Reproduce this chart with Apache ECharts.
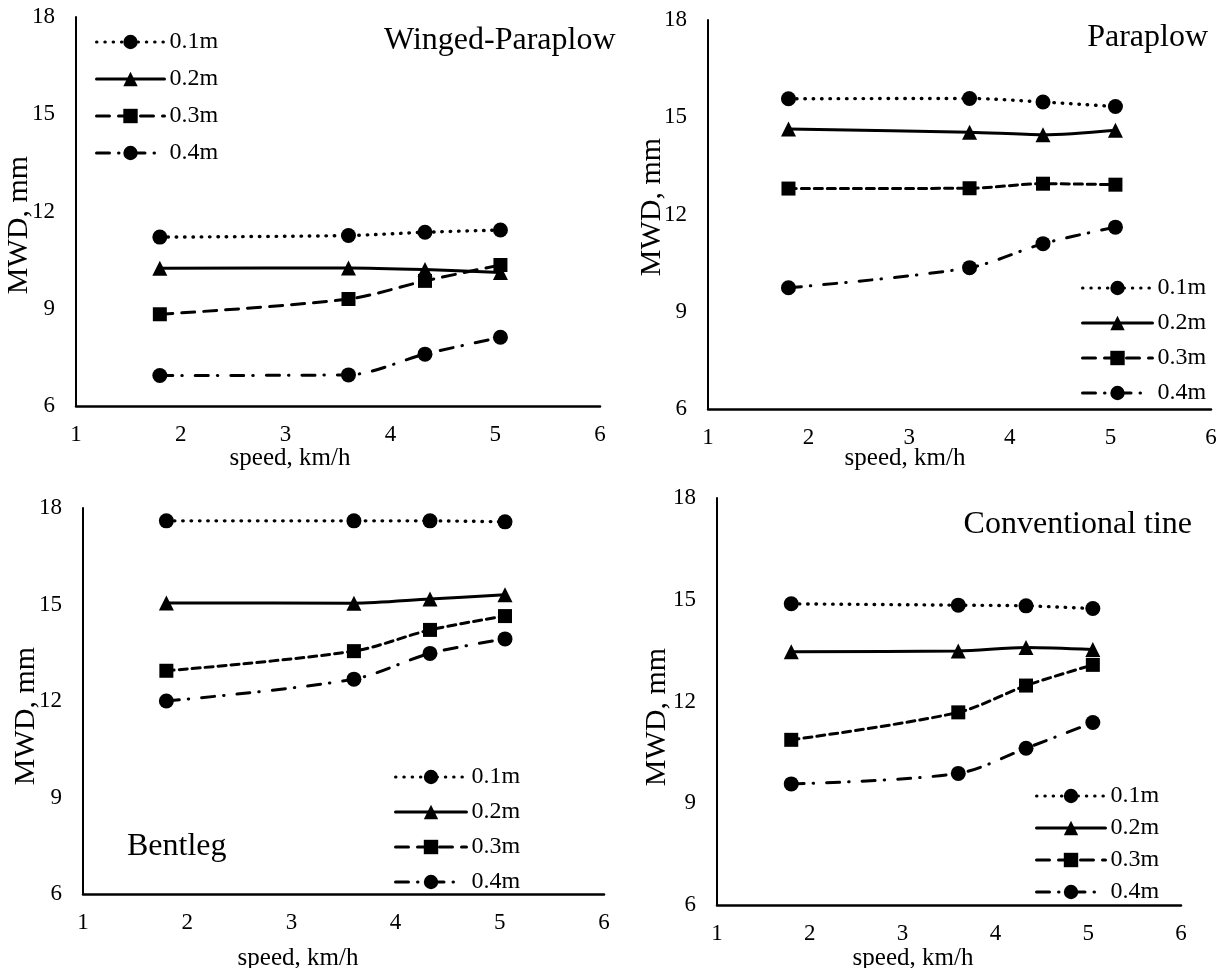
<!DOCTYPE html>
<html>
<head>
<meta charset="utf-8">
<script src="https://cdn.jsdelivr.net/npm/echarts@6/dist/echarts.min.js"></script>
<style>
html, body { margin: 0; background: #fff; }
#chart { width: 1228px; height: 968px; }
</style>
</head>
<body>
<div id="chart"></div>
<script>
// tillage speed (km/h) at which MWD was measured
const speeds = [1.8, 3.6, 4.33, 5.05]
const depths = ['0.1m', '0.2m', '0.3m', '0.4m']
const xTicks = [1, 2, 3, 4, 5, 6]
const yTicks = [6, 9, 12, 15, 18]

// MWD in mm, one row per depth (0.1m .. 0.4m)
const wingedParaplow = [
  [11.21, 11.26, 11.36, 11.43],
  [10.25, 10.26, 10.21, 10.12],
  [8.83, 9.30, 9.86, 10.35],
  [6.94, 6.96, 7.60, 8.12]
]
const paraplow = [
  [15.57, 15.58, 15.47, 15.33],
  [14.64, 14.54, 14.46, 14.60],
  [12.80, 12.81, 12.95, 12.92],
  [9.74, 10.36, 11.10, 11.61]
]
const bentleg = [
  [17.60, 17.60, 17.60, 17.57],
  [15.05, 15.04, 15.17, 15.30],
  [12.94, 13.55, 14.21, 14.64],
  [12.00, 12.68, 13.48, 13.93]
]
const conventionalTine = [
  [14.88, 14.84, 14.82, 14.74],
  [13.47, 13.49, 13.59, 13.53],
  [10.87, 11.68, 12.47, 13.08],
  [9.57, 9.88, 10.62, 11.38]
]

const FONT = '"Liberation Serif", "Times New Roman", serif'
const symbols = ['circle', 'triangle', 'rect', 'circle']
const symbolSizes = [15, 15, 14, 15]

// panel layout
const panels = [
  { name: 'Winged-Paraplow', data: wingedParaplow,
    grid: { left: 76, top: 17, width: 524, height: 389 },
    title: [384, 41, 'left'], xName: [290, 458], yName: [19, 225],
    legend: { left: 95, top: 30, itemWidth: 68, itemGap: 13 },
    dash: [13, 9] },
  { name: 'Paraplow', data: paraplow,
    grid: { left: 708, top: 20, width: 503, height: 389 },
    title: [1208, 38, 'right'], xName: [905, 458], yName: [652, 207],
    legend: { left: 1081, top: 276, itemWidth: 70, itemGap: 11 },
    dash: [8, 5] },
  { name: 'Bentleg', data: bentleg,
    grid: { left: 83, top: 508, width: 521, height: 386 },
    title: [127, 847, 'left'], xName: [298, 958], yName: [26, 716],
    legend: { left: 394, top: 765, itemWidth: 71, itemGap: 11 },
    dash: [8, 5] },
  { name: 'Conventional tine', data: conventionalTine,
    grid: { left: 717, top: 498, width: 464, height: 407 },
    title: [1192, 525, 'right'], xName: [913, 958], yName: [657, 717],
    legend: { left: 1035, top: 784, itemWidth: 69, itemGap: 8 },
    dash: [8, 5] }
]

const lineTypes = p => [[0.5, 7.8], 'solid', p.dash, [13, 9, 0.5, 13]]

const chart = echarts.init(document.getElementById('chart'))

const grid = [], xAxis = [], yAxis = [], series = [], legend = [], graphic = []

panels.forEach((p, i) => {
  grid.push(p.grid)
  xAxis.push({
    type: 'value', gridIndex: i, min: xTicks[0], max: xTicks[xTicks.length - 1], interval: 1,
    axisLine: { lineStyle: { color: '#000', width: 2.5 } },
    axisTick: { show: false }, splitLine: { show: false },
    axisLabel: { color: '#000', fontFamily: FONT, fontSize: 23, margin: 17 }
  })
  yAxis.push({
    type: 'value', gridIndex: i, min: yTicks[0], max: yTicks[yTicks.length - 1], interval: 3,
    axisLine: { show: true, lineStyle: { color: '#000', width: 2 } },
    axisTick: { show: false }, splitLine: { show: false },
    axisLabel: { color: '#000', fontFamily: FONT, fontSize: 23, margin: 21 }
  })
  const types = lineTypes(p)
  p.data.forEach((row, k) => {
    series.push({
      name: depths[k], type: 'line', xAxisIndex: i, yAxisIndex: i,
      data: speeds.map((s, j) => [s, row[j]]),
      smooth: 0.3,
      symbol: symbols[k], symbolSize: symbolSizes[k],
      itemStyle: { color: '#000' },
      lineStyle: { color: '#000', width: k === 0 ? 3.4 : 3, type: types[k], cap: 'round' },
      emphasis: { disabled: true },
      z: 10 - k
    })
  })
  legend.push(Object.assign({
    orient: 'vertical', itemHeight: 18, padding: 0, data: depths, selectedMode: false,
    lineStyle: { width: 3, cap: 'round' },
    textStyle: { color: '#000', fontFamily: FONT, fontSize: 24 }
  }, p.legend))
  graphic.push({
    type: 'text', x: p.title[0], y: p.title[1],
    style: { text: p.name, font: '32px ' + FONT, fill: '#000', textAlign: p.title[2], textVerticalAlign: 'middle' }
  })
  graphic.push({
    type: 'text', x: p.xName[0], y: p.xName[1],
    style: { text: 'speed, km/h', font: '25px ' + FONT, fill: '#000', textAlign: 'center', textVerticalAlign: 'middle' }
  })
  graphic.push({
    type: 'text', x: p.yName[0], y: p.yName[1], rotation: Math.PI / 2,
    style: { text: 'MWD, mm', font: '30px ' + FONT, fill: '#000', textAlign: 'center', textVerticalAlign: 'middle' }
  })
})

chart.setOption({
  animation: false,
  backgroundColor: '#fff',
  grid, xAxis, yAxis, series, legend, graphic
})
</script>
</body>
</html>
